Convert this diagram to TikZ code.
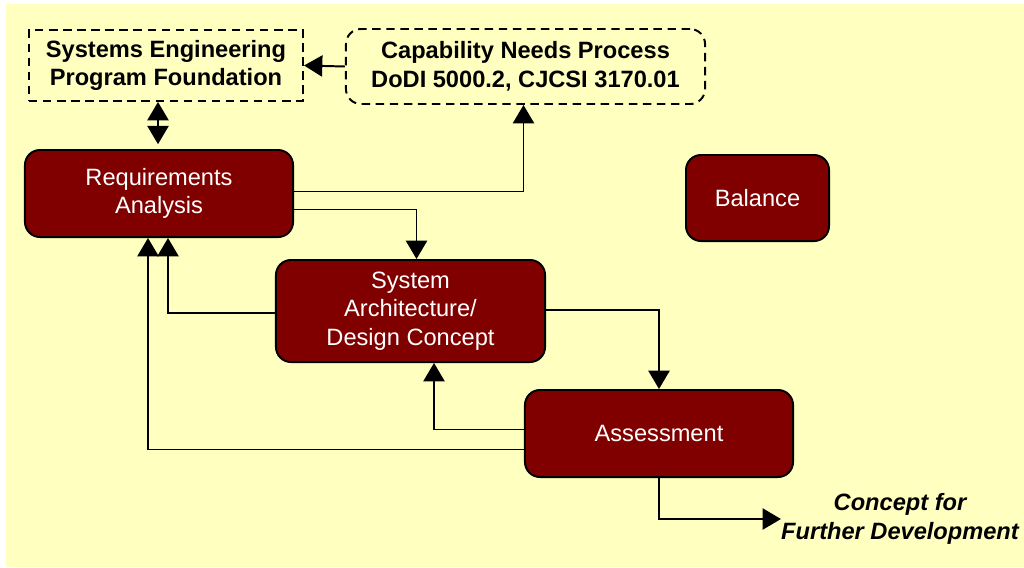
\documentclass[tikz,border=0pt]{standalone}
\usepackage{fontspec}
\setmainfont{Liberation Sans}
\usepackage{tikz}
\usetikzlibrary{positioning}
\usetikzlibrary{arrows.meta,calc}
\definecolor{bgyellow}{HTML}{FFFFC0}
\definecolor{boxred}{HTML}{800000}
\tikzset{
	phase/.style={
			draw=black, fill=boxred, text=white, line width=1.4pt,
			rounded corners=0.375cm, align=center,
			font=\fontsize{16.8}{20.3}\selectfont
		},
	source/.style={
			draw=black, line width=1.4pt, dash pattern=on 6pt off 4pt,
			align=center, font=\fontsize{16.8}{20.3}\selectfont\bfseries
		},
	flow/.style={line width=1.4pt, -{Triangle[width=15pt,length=13pt]}}
}

\begin{document}
\begin{tikzpicture}[x=0.025cm,y=-0.025cm]

  \useasboundingbox (0,0) rectangle (1024,567);
  \fill[bgyellow] (6,4) rectangle (1024,567);

  \node[source, minimum width=6.85cm, minimum height=1.775cm] (sefound) at (166,65.5) {Systems Engineering\\Program Foundation};
  \node[source, rounded corners=0.375cm, minimum width=8.975cm, minimum height=1.875cm] (capneeds) at (525.5,66.5) {Capability Needs Process\\DoDI 5000.2, CJCSI 3170.01};

  \node[phase, minimum width=6.7cm, minimum height=2.175cm] (reqan) at (159,193.5) {Requirements\\Analysis};
  \node[phase, minimum width=3.575cm, minimum height=2.15cm] (balance) at (757.5,198) {Balance};
  \node[phase, minimum width=6.725cm, minimum height=2.55cm] (sysarch) at (410.5,311) {System\\Architecture/\\Design Concept};
  \node[phase, minimum width=6.7cm, minimum height=2.175cm] (assess) at (659,433.5) {Assessment};

  \node[align=center, inner sep=0pt, font=\fontsize{16.8}{20.3}\selectfont\bfseries\itshape] (concept) at (900,519) {Concept for\\Further Development};

  % inputs
  \draw[flow] (capneeds.west) -- (sefound.east);
  \draw[line width=1.4pt, {Triangle[width=15pt,length=13pt]}-{Triangle[width=15pt,length=13pt]}, shorten >=0.12cm] ([xshift=-0.2cm]sefound.south) -- ([xshift=-0.2cm]sefound.south |- reqan.north);
  \draw[flow] ([yshift=0.05cm]reqan.east) -| ([xshift=-0.05cm]capneeds.south);

  % main loop
  \draw[flow] ([yshift=-0.4cm]reqan.east) -| ([xshift=0.15cm]sysarch.north);
  \draw[flow] ([yshift=-0.05cm]sysarch.west) -| ([xshift=0.225cm]reqan.south);
  \draw[flow] ([yshift=0.025cm]sysarch.east) -| (assess.north);
  \draw[flow] ([yshift=0.1cm]assess.west) -| ([xshift=0.5875cm]sysarch.south);
  \draw[flow] ([yshift=-0.4cm]assess.west) -| ([xshift=-0.275cm]reqan.south);

  % output
  \draw[flow] (assess.south) |- (concept.west);

\end{tikzpicture}
\end{document}
